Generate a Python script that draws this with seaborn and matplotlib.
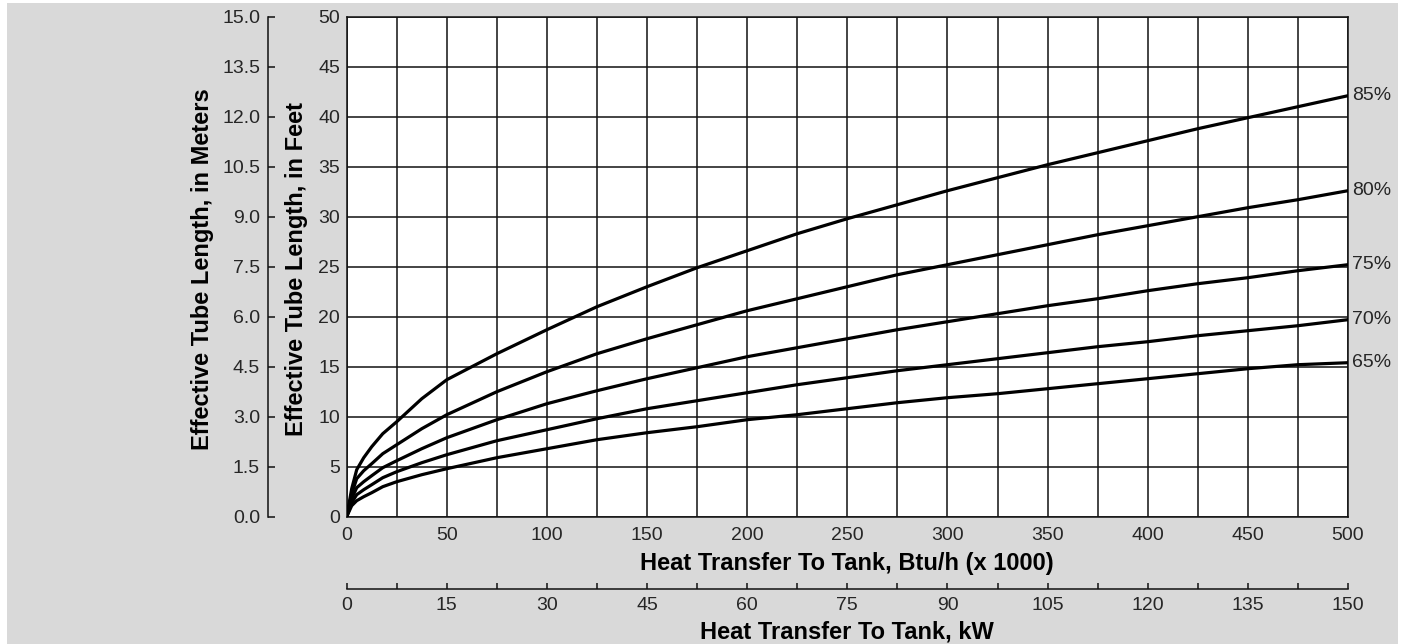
import numpy as np
import pandas as pd
import matplotlib
matplotlib.use("Agg")
import matplotlib.pyplot as plt
import seaborn as sns
from matplotlib.patches import Rectangle
from matplotlib.ticker import MultipleLocator, FormatStrFormatter

# ---- data (x in Btu/h x1000, y in feet) ----
btu = [0, 2.5, 5, 8.5, 12.5, 18, 25, 37.5, 50, 75, 100, 125, 150, 175, 200, 225, 250,
       275, 300, 325, 350, 375, 400, 425, 450, 475, 500]
eff_85 = [0, 2.8, 4.7, 5.9, 7.0, 8.3, 9.5, 11.8, 13.7, 16.3, 18.7, 21.0, 23.0, 24.9, 26.6, 28.3, 29.8,
          31.2, 32.6, 33.9, 35.2, 36.4, 37.6, 38.8, 39.9, 41.0, 42.1]
eff_80 = [0, 2.3, 3.8, 4.6, 5.3, 6.3, 7.2, 8.8, 10.2, 12.5, 14.5, 16.3, 17.8, 19.2, 20.6, 21.8, 23.0,
          24.2, 25.2, 26.2, 27.2, 28.2, 29.1, 30.0, 30.9, 31.7, 32.6]
eff_75 = [0, 1.8, 2.9, 3.5, 4.1, 4.9, 5.6, 6.8, 7.9, 9.7, 11.3, 12.6, 13.8, 14.9, 16.0, 16.9, 17.8,
          18.7, 19.5, 20.3, 21.1, 21.8, 22.6, 23.3, 23.9, 24.6, 25.2]
eff_70 = [0, 1.4, 2.2, 2.7, 3.2, 3.9, 4.5, 5.4, 6.2, 7.6, 8.7, 9.8, 10.8, 11.6, 12.4, 13.2, 13.9,
          14.6, 15.2, 15.8, 16.4, 17.0, 17.5, 18.1, 18.6, 19.1, 19.7]
eff_65 = [0, 1.1, 1.6, 2.0, 2.4, 3.0, 3.5, 4.2, 4.8, 5.9, 6.8, 7.7, 8.4, 9.0, 9.7, 10.2, 10.8,
          11.4, 11.9, 12.3, 12.8, 13.3, 13.8, 14.3, 14.8, 15.2, 15.4]
series_labels = ["85%", "80%", "75%", "70%", "65%"]

kw_ticks = [0, 15, 30, 45, 60, 75, 90, 105, 120, 135, 150]
meter_ticks = [0.0, 1.5, 3.0, 4.5, 6.0, 7.5, 9.0, 10.5, 12.0, 13.5, 15.0]

df = pd.concat([
    pd.DataFrame({"btu": btu, "feet": vals, "eff": lab})
    for lab, vals in zip(series_labels, [eff_85, eff_80, eff_75, eff_70, eff_65])
])

sns.set_theme(style="white")
plt.rcParams["font.family"] = ["Liberation Sans", "DejaVu Sans"]

W, H = 1404, 644
fig = plt.figure(figsize=(W / 100, H / 100), dpi=100)
fig.patch.set_facecolor("white")
# grey panel behind everything
fig.patches.append(Rectangle((7 / W, 0), (1398 - 7) / W, (644 - 3) / H,
                             transform=fig.transFigure, facecolor="#d9d9d9",
                             edgecolor="none", zorder=-10))

TXT = "#262626"
LINE = "#111111"

# plot frame in pixel positions of the original
left, right = 346.7 / W, 1348 / W
top, bottom = 1 - 16.7 / H, 1 - 516.7 / H
ax = fig.add_axes([left, bottom, right - left, top - bottom])
ax.set_facecolor("white")

sns.lineplot(data=df, x="btu", y="feet", hue="eff", palette=["black"] * 5,
             legend=False, ax=ax, linewidth=2.3, sort=False, zorder=5)

ax.set_xlim(0, 500)
ax.set_ylim(0, 50)
ax.xaxis.set_major_locator(MultipleLocator(50))
ax.xaxis.set_minor_locator(MultipleLocator(25))
ax.yaxis.set_major_locator(MultipleLocator(5))
ax.grid(which="both", color=LINE, linewidth=1.1)
ax.tick_params(which="both", length=0, labelsize=14, labelcolor=TXT)
ax.tick_params(axis="x", pad=7.4)
ax.tick_params(axis="y", pad=4.8)
ax.set_xlabel("")
ax.set_ylabel("")
for s in ax.spines.values():
    s.set_visible(True)
    s.set_color(LINE)
    s.set_linewidth(1.1)

# curve end labels
for lab, vals in zip(series_labels, [eff_85, eff_80, eff_75, eff_70, eff_65]):
    ax.annotate(lab, xy=(btu[-1], vals[-1]), xytext=(3, 0), textcoords="offset points",
                va="center", ha="left", fontsize=14, color=TXT, annotation_clip=False)

# meters axis (separate spine on the left)
axm = fig.add_axes([267.7 / W, bottom, 0.001, top - bottom])
axm.set_facecolor("none")
axm.set_ylim(0, 15)
axm.set_yticks(meter_ticks)
axm.yaxis.set_major_formatter(FormatStrFormatter("%.1f"))
axm.set_xticks([])
for k, s in axm.spines.items():
    s.set_visible(k == "left")
axm.spines["left"].set_color(LINE)
axm.spines["left"].set_linewidth(1.1)
axm.tick_params(axis="y", left=True, direction="in", length=5.3, width=1.1, color=LINE,
                labelsize=14, labelcolor=TXT, pad=5.5)

# kW axis below
axk = fig.add_axes([left, 1 - 589 / H, right - left, 0.001])
axk.set_facecolor("none")
axk.set_xlim(0, 150)
axk.set_xticks(kw_ticks)
axk.xaxis.set_minor_locator(MultipleLocator(7.5))
axk.set_yticks([])
for k, s in axk.spines.items():
    s.set_visible(k == "bottom")
axk.spines["bottom"].set_color(LINE)
axk.spines["bottom"].set_linewidth(1.1)
axk.tick_params(axis="x", which="both", bottom=True, direction="in", length=4.5, width=1.1,
                color=LINE, labelsize=14, labelcolor=TXT, pad=5.5)

# axis titles
fig.text(847 / W, 1 - 570 / H, "Heat Transfer To Tank, Btu/h (x 1000)",
         ha="center", va="baseline", fontsize=17, fontweight="bold", color="black")
fig.text(847 / W, 1 - 638 / H, "Heat Transfer To Tank, kW",
         ha="center", va="baseline", fontsize=17, fontweight="bold", color="black")
fig.text(296 / W, 1 - 269 / H, "Effective Tube Length, in Feet", rotation=90,
         ha="center", va="center", fontsize=17, fontweight="bold", color="black")
fig.text(203 / W, 1 - 269 / H, "Effective Tube Length, in Meters", rotation=90,
         ha="center", va="center", fontsize=17, fontweight="bold", color="black")

fig.savefig("out.png", dpi=100, facecolor=fig.get_facecolor())
